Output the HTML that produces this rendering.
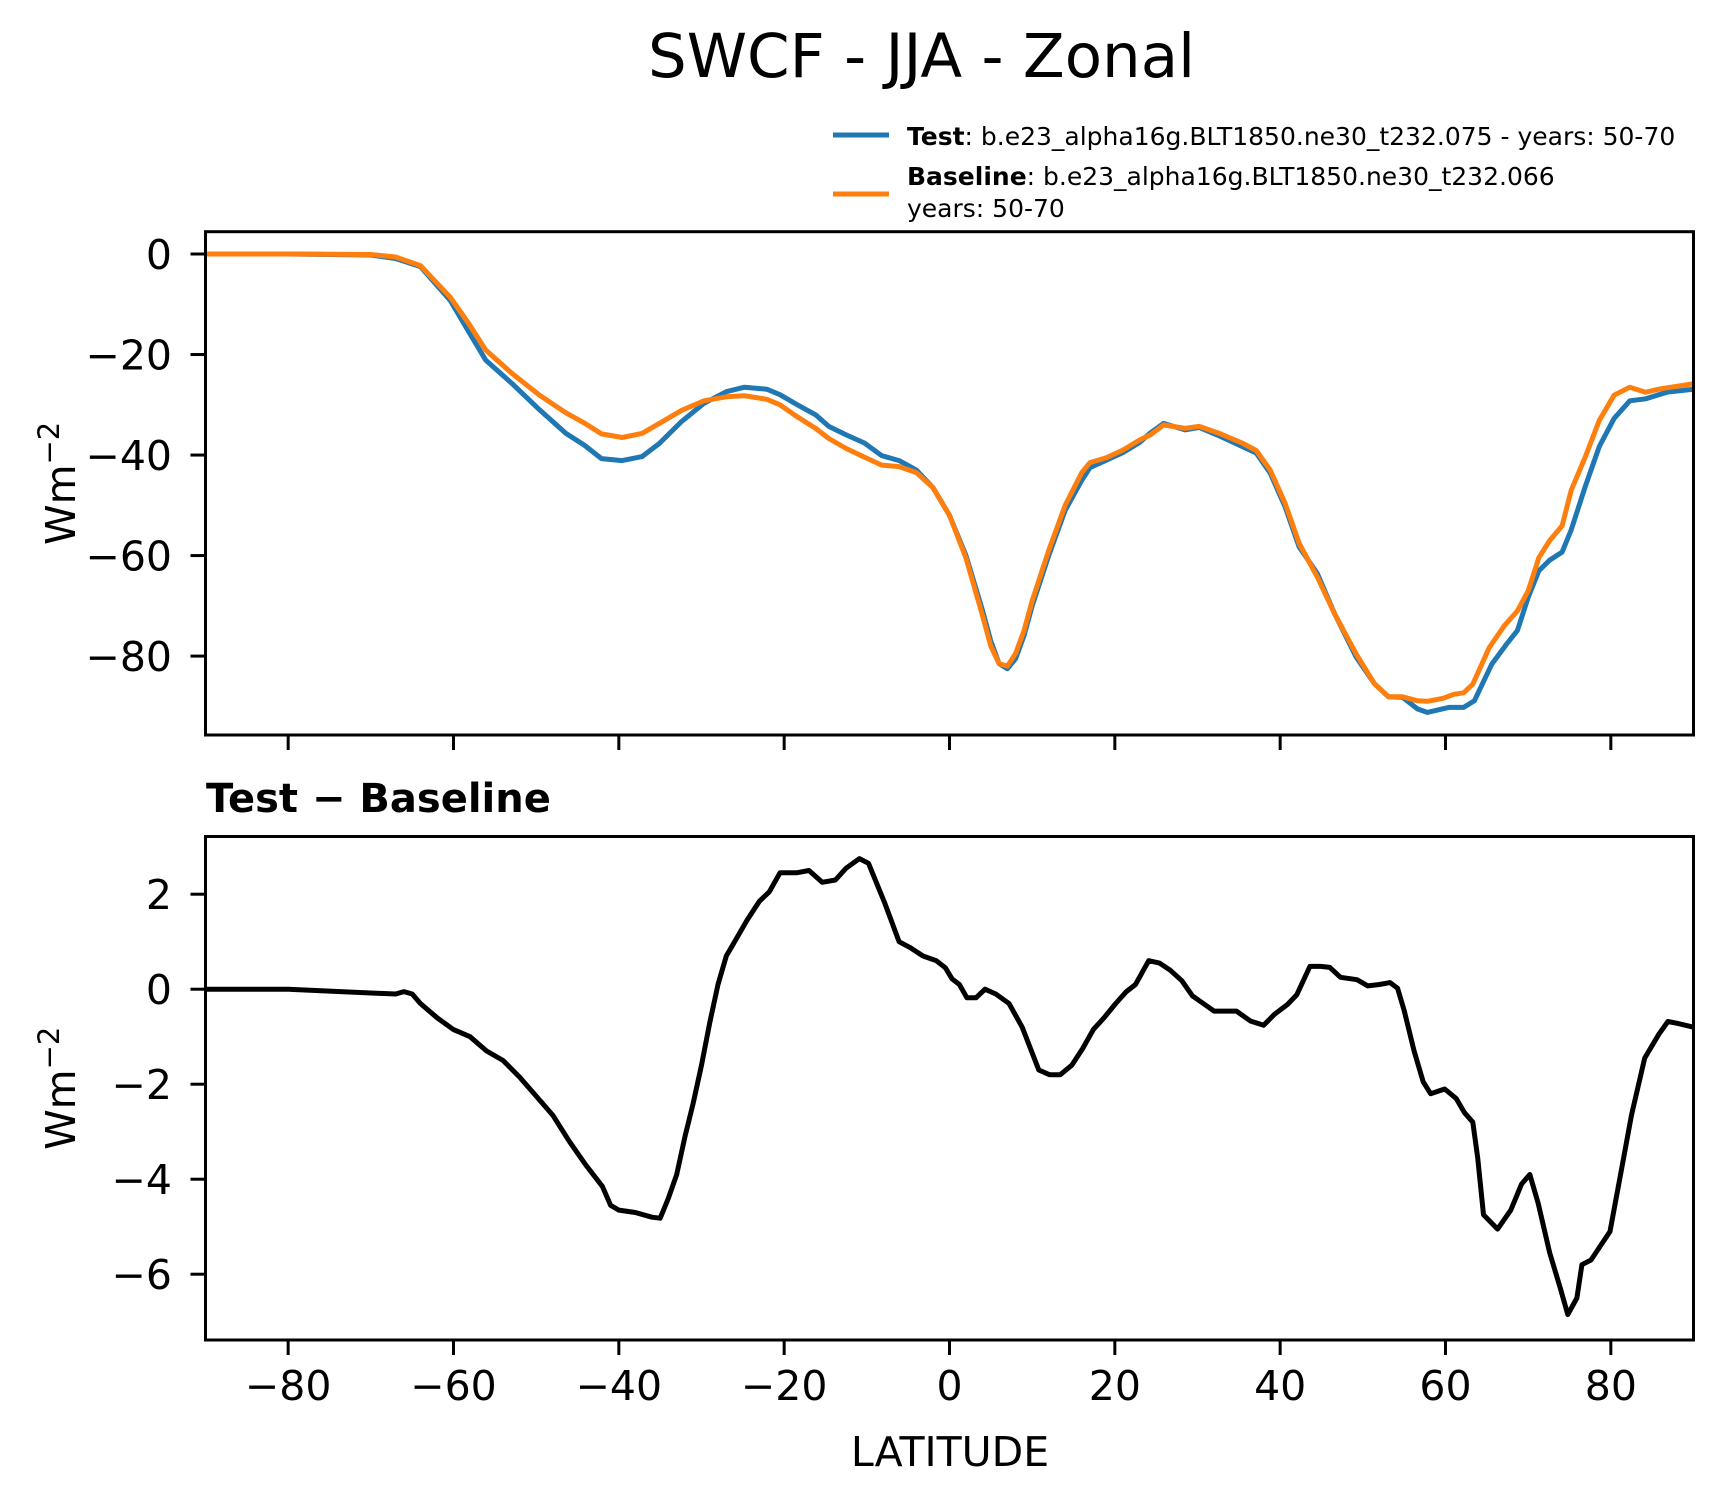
<!DOCTYPE html>
<html><head><meta charset="utf-8"><style>
html,body{margin:0;padding:0;background:#fff;}
svg{display:block;font-family:"DejaVu Sans","Liberation Sans",sans-serif;}
</style></head><body>
<svg id="fig" width="1722" height="1496" viewBox="0 0 1722 1496" xmlns="http://www.w3.org/2000/svg">
<rect width="1722" height="1496" fill="#fff"/>
<text x="648" y="77" font-size="61">SWCF - JJA - Zonal</text>
<g>
 <line x1="833" y1="135" x2="889" y2="135" stroke="#1f77b4" stroke-width="5"/>
 <text x="907" y="145" font-size="25"><tspan font-weight="bold">Test</tspan>: b.e23_alpha16g.BLT1850.ne30_t232.075 - years: 50-70</text>
 <line x1="833" y1="194" x2="889" y2="194" stroke="#ff7f0e" stroke-width="5"/>
 <text x="907" y="185" font-size="25"><tspan font-weight="bold">Baseline</tspan>: b.e23_alpha16g.BLT1850.ne30_t232.066</text>
 <text x="907" y="217" font-size="25">years: 50-70</text>
</g>
<g id="top"></g>
<g id="bot"></g>
<text x="206" y="812" font-size="40" font-weight="bold">Test − Baseline</text>
<text x="950" y="1466" font-size="41" text-anchor="middle">LATITUDE</text>
</svg>
<script>
const xTicks = [-80,-60,-40,-20,0,20,40,60,80];
const topYTicks = [0,-20,-40,-60,-80];
const botYTicks = [2,0,-2,-4,-6];
const testLat = [-90,-80,-70,-67,-64,-60.4,-58.3,-56.1,-52.9,-49.6,-46.4,-44.2,-42.1,-39.6,-37.2,-35.1,-32.4,-29.7,-27,-24.8,-22.1,-20.5,-18.4,-16.2,-14.6,-12.5,-10.3,-8.2,-6.1,-4,-2,0,2,4,5,6,7,8,9,10,12,14,16,17,19,21,23,24.3,25.9,28.5,30.2,32.8,35.4,37.1,38.8,40.6,42.3,44.5,46.6,49.2,51.4,53.1,54.8,56.6,57.8,60.4,62.2,63.5,65.6,67.4,68.7,70,71.3,72.6,74.1,75.2,76.9,78.6,80.4,82.3,84.2,86.8,90];
const testVals = [0,0,-0.2,-0.9,-2.5,-9.2,-15.1,-21.1,-25.8,-31,-35.7,-38,-40.7,-41.1,-40.3,-37.7,-33.3,-29.7,-27.4,-26.5,-26.9,-28,-30,-32,-34.3,-36,-37.6,-40.1,-41.1,-43,-46.5,-52,-60,-71,-77,-81.5,-82.5,-80.5,-76,-70,-60,-51,-45,-42.5,-41,-39.5,-37.5,-35.6,-33.7,-35,-34.5,-36.3,-38.3,-39.6,-43.6,-50.3,-58.3,-63.6,-71.6,-80.2,-85.5,-88.1,-88.2,-90.5,-91.2,-90.2,-90.2,-88.9,-81.6,-77.6,-74.9,-68.3,-63,-60.9,-59.3,-54.9,-46.3,-38.3,-32.7,-29.2,-28.8,-27.5,-26.9];
const baseLat = [-90,-80,-70,-67,-64,-60.4,-58.3,-56.1,-52.9,-49.6,-46.4,-44.2,-42.1,-39.6,-37.2,-35.1,-32.4,-29.7,-27,-24.8,-22.1,-20.5,-18.4,-16.2,-14.6,-12.5,-10.3,-8.2,-6.1,-4,-2,0,2,4,5,6,7,8,9,10,12,14,16,17,19,21,23,24.3,25.9,28.5,30.2,32.8,35.4,37.1,38.8,40.6,42.3,44.5,46.6,49.2,51.4,53.1,54.8,56.6,57.8,59.7,61,62.2,63.3,65.3,67.1,68.7,70,71.3,72.6,74.1,75.2,76.9,78.6,80.4,82.3,84.2,86.1,90];
const baseVals = [0,0,-0.1,-0.6,-2.3,-8.6,-13.5,-19.1,-23.8,-28.1,-31.6,-33.6,-35.8,-36.5,-35.7,-33.7,-31.1,-29.2,-28.4,-28.2,-28.9,-30,-32.4,-34.7,-36.7,-38.7,-40.4,-42,-42.3,-43.5,-46.5,-52,-60.5,-72,-78,-81.5,-82,-79.5,-75,-69,-59,-50,-43.5,-41.5,-40.5,-39,-37,-36,-34,-34.7,-34.3,-35.8,-37.6,-39.1,-43,-49.6,-57.6,-64.3,-71.6,-79.6,-85.5,-88.1,-88.1,-88.9,-89,-88.4,-87.6,-87.3,-85.6,-78.3,-74,-71,-67,-60.4,-57,-54.1,-47,-40.4,-33.1,-28.1,-26.5,-27.5,-26.8,-25.8];
const diffLat = [-90,-80,-70,-67,-66,-65,-64,-62,-60,-58,-56,-54,-52,-50,-48,-46,-44,-42,-41,-40,-38,-36,-35,-34,-33,-32,-31,-30,-29,-28,-27,-26,-24.5,-23,-21.8,-20.5,-18.5,-17,-15.4,-13.8,-12.5,-10.9,-9.8,-7.8,-6.1,-4.8,-3.2,-1.6,-0.5,0.3,1.2,2.1,3.2,4.3,5.6,7.2,8.8,10.8,12.1,13.4,14.8,16.1,17.4,18.7,20.1,21.4,22.5,24.1,25.4,26.7,28.1,29.4,30.7,32,34.7,36.4,38,39.3,40.9,42,43.6,44.9,46,47.3,49.3,50.6,52,53.3,54.2,55,56.2,57.3,58.2,59.9,61.3,62.3,63.3,63.9,64.6,66.3,67.9,69.2,70.2,71.2,72.6,73.9,74.8,75.9,76.5,77.6,79.9,81.5,82.5,84.1,85.8,86.9,88.1,90];
const diffVals = [0,0,-0.08,-0.1,-0.05,-0.1,-0.3,-0.6,-0.85,-1.0,-1.3,-1.5,-1.85,-2.25,-2.65,-3.2,-3.7,-4.15,-4.55,-4.65,-4.7,-4.8,-4.82,-4.4,-3.9,-3.1,-2.4,-1.6,-0.7,0.1,0.7,1.0,1.45,1.85,2.05,2.45,2.45,2.5,2.25,2.3,2.55,2.75,2.65,1.8,1.0,0.88,0.7,0.6,0.45,0.22,0.1,-0.18,-0.18,0,-0.1,-0.3,-0.8,-1.7,-1.8,-1.8,-1.6,-1.25,-0.85,-0.6,-0.3,-0.05,0.1,0.6,0.55,0.4,0.18,-0.14,-0.3,-0.46,-0.46,-0.67,-0.76,-0.53,-0.32,-0.12,0.48,0.48,0.46,0.25,0.2,0.07,0.1,0.14,0.02,-0.45,-1.3,-1.95,-2.2,-2.1,-2.3,-2.6,-2.8,-3.55,-4.75,-5.05,-4.65,-4.1,-3.9,-4.5,-5.55,-6.3,-6.85,-6.5,-5.8,-5.7,-5.1,-3.6,-2.65,-1.45,-0.95,-0.68,-0.72,-0.8];

const NS='http://www.w3.org/2000/svg';
const X0=205.5, X1=1693.5;
function xs(v){return X0+(v+90)/180*(X1-X0);}
function mkY(vTop,vBot,pTop,pBot){return v=>pTop+(vTop-v)/(vTop-vBot)*(pBot-pTop);}
function el(t,a,p){const e=document.createElementNS(NS,t);for(const k in a)e.setAttribute(k,a[k]);p.appendChild(e);return e;}

function panel(g,yTop,yBot,vTop,vBot,yTicks,showXLabels,labelName){
  const ys=mkY(vTop,vBot,yTop,yBot);
  yTicks.forEach(t=>{
    const y=ys(t);
    const tk=el('line',{x1:X0-15,x2:X0,y1:y,y2:y,stroke:'#000','stroke-width':3},g);
    
    
    const lb=el('text',{x:172,y:y+15,'font-size':41,'text-anchor':'end'},g);
    lb.textContent=(t<0?'\u2212':'')+Math.abs(t);
    
    
  });
  xTicks.forEach(t=>{
    const x=xs(t);
    const tk=el('line',{x1:x,x2:x,y1:yBot,y2:yBot+15,stroke:'#000','stroke-width':3},g);
    
    
    if(showXLabels){
      const lb=el('text',{x:x,y:yBot+60,'font-size':41,'text-anchor':'middle'},g);
      lb.textContent=(t<0?'\u2212':'')+Math.abs(t);
      
      
    }
  });
  const cy=(yTop+yBot)/2;
  const yl=el('text',{x:0,y:0,'font-size':41,'text-anchor':'middle',transform:`translate(75,${cy}) rotate(-90)`},g);
  yl.innerHTML='Wm<tspan dy="-16" font-size="29">\u22122</tspan>';
  
  
  return ys;
}
function line(g,lat,vals,ys,color,name,yTop,yBot,id){
  const cp=el('clipPath',{id:id},g);
  el('rect',{x:X0,y:yTop,width:X1-X0,height:yBot-yTop},cp);
  const d=lat.map((l,i)=>(i?'L':'M')+xs(l).toFixed(1)+','+ys(vals[i]).toFixed(1)).join('');
  const p=el('path',{d:d,fill:'none',stroke:color,'stroke-width':5,'stroke-linejoin':'round','clip-path':`url(#${id})`},g);
  
  
}
function frame(g,yTop,yBot,name){
  const r=el('rect',{x:X0,y:yTop,width:X1-X0,height:yBot-yTop,fill:'none',stroke:'#000','stroke-width':3},g);
  
  
}
const gt=document.getElementById('top');
const ysT=panel(gt,231.7,735,4.44,-95.7,topYTicks,false,'top-y-axis-title');
line(gt,testLat,testVals,ysT,'#1f77b4','test-line',231.7,735,'c1');
line(gt,baseLat,baseVals,ysT,'#ff7f0e','baseline-line',231.7,735,'c2');
frame(gt,231.7,735,'top-plot-frame');
const gb=document.getElementById('bot');
const ysB=panel(gb,836.5,1340,3.215,-7.385,botYTicks,true,'bottom-y-axis-title');
line(gb,diffLat,diffVals,ysB,'#000','difference-line',836.5,1340,'c3');
frame(gb,836.5,1340,'bottom-plot-frame');
</script>
</body></html>
